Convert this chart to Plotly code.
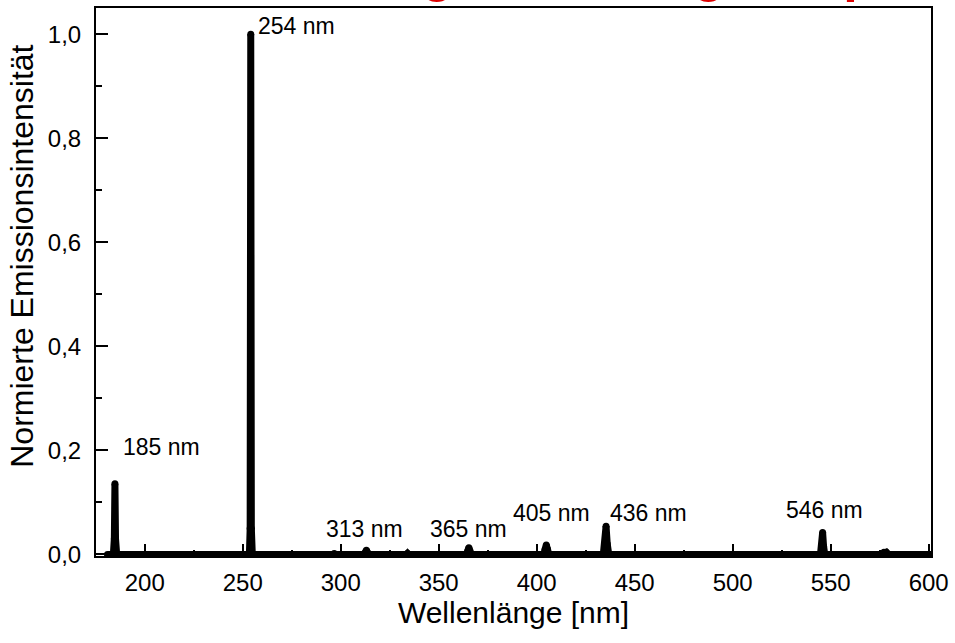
import plotly.graph_objects as go

# Spectrum (wavelength in nm, normalised intensity)
wavelength_nm = [181.0, 184.0, 184.5, 184.8, 185.1, 185.7,
                 253.4, 253.8, 254.1, 254.4, 254.9,
                 296.0, 296.7, 297.4,
                 312.0, 312.6, 313.1, 313.6, 314.2,
                 333.6, 334.1, 334.6,
                 364.2, 364.9, 365.4, 365.9, 366.6,
                 403.6, 404.3, 404.9, 405.5, 406.2,
                 434.0, 434.8, 435.4, 436.0, 436.8,
                 544.8, 545.4, 545.9, 546.4, 547.0,
                 576.2, 577.2, 578.4, 579.4,
                 601.5]
intensity = [0, 0, 0.03, 0.136, 0.03, 0,
             0, 0.05, 1.0, 0.05, 0,
             0, 0.002, 0,
             0, 0.004, 0.008, 0.004, 0,
             0, 0.002, 0,
             0, 0.007, 0.013, 0.007, 0,
             0, 0.010, 0.018, 0.010, 0,
             0, 0.020, 0.054, 0.020, 0,
             0, 0.015, 0.042, 0.015, 0,
             0, 0.004, 0.004, 0,
             0]

# Peak labels and where their text sits (data coordinates)
peak_labels = ["185 nm", "254 nm", "313 nm", "365 nm", "405 nm", "436 nm", "546 nm"]
label_x = [188.0, 257.0, 312.1, 365.4, 407.5, 436.4, 547.0]
label_y = [0.206, 1.016, 0.049, 0.049, 0.080, 0.080, 0.085]
label_anchor = ["left", "left", "center", "center", "center", "left", "center"]

x_ticks = [200, 250, 300, 350, 400, 450, 500, 550, 600]
y_ticks = [0.0, 0.2, 0.4, 0.6, 0.8, 1.0]

title_text = "Emission der Hg-Entladungslampe"
x_title = "Wellenlänge [nm]"
y_title = "Normierte Emissionsintensität"

FONT = "Liberation Sans, Arial, sans-serif"

fig = go.Figure()
fig.add_trace(go.Scatter(
    x=wavelength_nm, y=intensity, mode="lines+markers",
    line=dict(color="black", width=7),
    marker=dict(color="black", size=7, line=dict(width=0)),
    showlegend=False, hoverinfo="x+y"))

for t, xx, yy, a in zip(peak_labels, label_x, label_y, label_anchor):
    fig.add_annotation(x=xx, y=yy, text=t, showarrow=False, xanchor=a, yanchor="middle",
                       font=dict(family=FONT, size=23, color="black"))

# chart title (mostly above the visible page, as in the reference)
fig.add_annotation(xref="paper", yref="paper", x=-0.066, y=1.0, xanchor="left", yanchor="bottom",
                   yshift=4, text="<b>" + title_text + "</b>", showarrow=False,
                   font=dict(family=FONT, size=52, color="#dd0000"))

# y axis title
fig.add_annotation(xref="paper", yref="paper", x=-0.088, y=0.547, xanchor="center", yanchor="middle",
                   textangle=-90, text=y_title, showarrow=False,
                   font=dict(family=FONT, size=32, color="black"))

axis_common = dict(showgrid=False, zeroline=False, showline=True, linecolor="black", linewidth=2,
                   mirror=True, ticks="inside", ticklen=12, tickwidth=2, tickcolor="black",
                   tickfont=dict(family=FONT, size=24, color="black"))

fig.update_xaxes(range=[175.14, 601.2], tickvals=x_ticks,
                 minor=dict(dtick=25, tick0=0, ticks="inside", ticklen=6, tickwidth=2, tickcolor="black"),
                 title=dict(text=x_title, font=dict(family=FONT, size=30, color="black"), standoff=3),
                 ticklabelstandoff=4,
                 **axis_common)
fig.update_yaxes(range=[-0.003, 1.0503], tickvals=y_ticks, tickformat=".1f",
                 minor=dict(dtick=0.1, tick0=0, ticks="inside", ticklen=6, tickwidth=2, tickcolor="black"),
                 ticklabelstandoff=8,
                 **axis_common)

fig.update_layout(width=955, height=643, margin=dict(l=96, r=19, t=6, b=87),
                  paper_bgcolor="white", plot_bgcolor="white", separators=",.",
                  font=dict(family=FONT, color="black"))

fig.write_html("out.html", config={"displayModeBar": False},
               post_script="document.body.style.margin='0';")
